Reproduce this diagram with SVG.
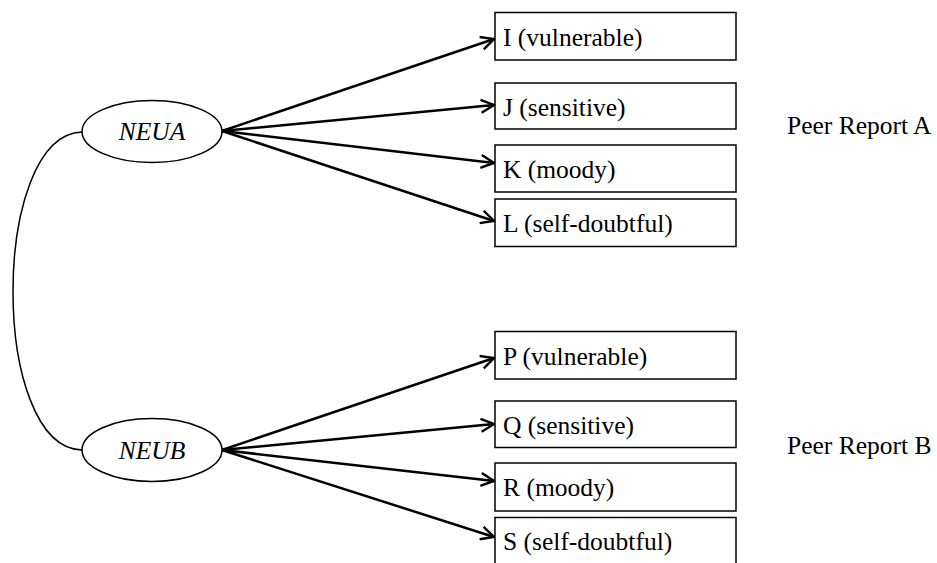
<svg xmlns="http://www.w3.org/2000/svg" width="937" height="563" viewBox="0 0 937 563">
<style>
text{font-family:"Liberation Serif","Times New Roman",serif;font-size:25.5px;fill:#000}
.lat{font-style:italic}
.box{fill:#fff;stroke:#000;stroke-width:1.5}
.el{fill:#fff;stroke:#000;stroke-width:1.5}
.ln{fill:none;stroke:#000;stroke-width:2.5}
.cv{fill:none;stroke:#000;stroke-width:1.5}
</style>
<defs>
<marker id="ah" markerWidth="16" markerHeight="16" viewBox="0 0 16 16" refX="14" refY="8" orient="auto" markerUnits="userSpaceOnUse">
<path d="M1 1.5 L14 8 L1 14.5" fill="none" stroke="#000" stroke-width="2.4"/>
</marker>
</defs>
<g id="connectors">
<path class="cv" d="M82 132 C-10 135,-10 448,82 450"/>
<line class="ln" x1="222" y1="131" x2="494" y2="39" marker-end="url(#ah)"/>
<line class="ln" x1="222" y1="131" x2="494" y2="105" marker-end="url(#ah)"/>
<line class="ln" x1="222" y1="131" x2="494" y2="163" marker-end="url(#ah)"/>
<line class="ln" x1="222" y1="131" x2="494" y2="221" marker-end="url(#ah)"/>
<line class="ln" x1="222" y1="450" x2="494" y2="358" marker-end="url(#ah)"/>
<line class="ln" x1="222" y1="450" x2="494" y2="424" marker-end="url(#ah)"/>
<line class="ln" x1="222" y1="450" x2="494" y2="481" marker-end="url(#ah)"/>
<line class="ln" x1="222" y1="450" x2="494" y2="537" marker-end="url(#ah)"/>
</g>
<g id="NEUA"><ellipse class="el" cx="152" cy="131.5" rx="70" ry="31"/><text class="lat" x="152" y="140" text-anchor="middle">NEUA</text></g>
<g id="NEUB"><ellipse class="el" cx="152" cy="450" rx="70" ry="31.5"/><text class="lat" x="152" y="459" text-anchor="middle">NEUB</text></g>
<g id="I"><rect class="box" x="495" y="12.5" width="241" height="47.5"/><text x="503" y="46">I (vulnerable)</text></g>
<g id="J"><rect class="box" x="495" y="83" width="241" height="46"/><text x="503" y="116">J (sensitive)</text></g>
<g id="K"><rect class="box" x="495" y="145" width="241" height="47"/><text x="503" y="178">K (moody)</text></g>
<g id="L"><rect class="box" x="495" y="199" width="241" height="47.5"/><text x="503" y="232">L (self-doubtful)</text></g>
<g id="P"><rect class="box" x="495" y="331.5" width="241" height="47.5"/><text x="503" y="365">P (vulnerable)</text></g>
<g id="Q"><rect class="box" x="495" y="401" width="241" height="46.5"/><text x="503" y="434">Q (sensitive)</text></g>
<g id="R"><rect class="box" x="495" y="463" width="241" height="48"/><text x="503" y="496">R (moody)</text></g>
<g id="S"><rect class="box" x="495" y="517.5" width="241" height="60"/><text x="503" y="550">S (self-doubtful)</text></g>
<g id="peerA"><text x="787" y="134">Peer Report A</text></g>
<g id="peerB"><text x="787" y="454">Peer Report B</text></g>
</svg>
